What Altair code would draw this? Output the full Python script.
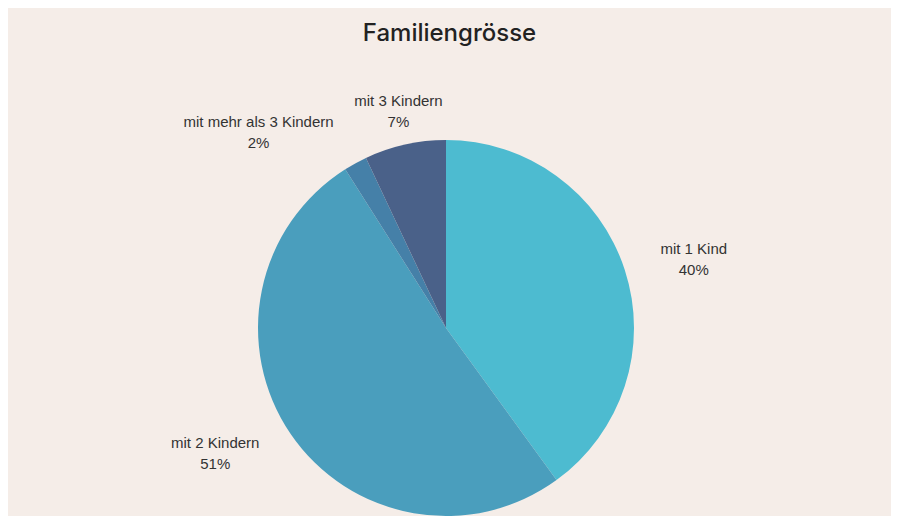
import altair as alt
import pandas as pd

# ---- data ----
categories = ["mit 1 Kind", "mit 2 Kindern", "mit mehr als 3 Kindern", "mit 3 Kindern"]
percent = [40, 51, 2, 7]
colors = ["#4dbbd0", "#4a9ebd", "#4580a8", "#4a6189"]

df = pd.DataFrame({"cat": categories, "pct": percent, "idx": list(range(len(categories)))})

# ---- layout (label placement tweaks, pixels) ----
label_radius = 250
label_offsets = {
    "mit 1 Kind": (10, -2),
    "mit 2 Kindern": (-24, -26),
    "mit mehr als 3 Kindern": (-67, 13),
    "mit 3 Kindern": (7, 17),
}
cx, cy = 438, 276
pie_r = 188

base = (
    alt.Chart(df)
    .transform_stack(stack="pct", as_=["v0", "v1"], groupby=[],
                     sort=[alt.SortField("idx", order="ascending")])
    .transform_calculate(mid="(datum.v0 + datum.v1) / 2",
                         label="datum.cat + '|' + datum.pct + '%'")
)

theta_scale = alt.Scale(domain=[0, 100], range=[0, 6.283185307179586])

arc = base.mark_arc(outerRadius=pie_r, stroke=None).encode(
    theta=alt.Theta("v0:Q", scale=theta_scale),
    theta2="v1:Q",
    color=alt.Color("cat:N", scale=alt.Scale(domain=categories, range=colors), legend=None),
    x=alt.value(cx),
    y=alt.value(cy),
)

labels = []
for c in categories:
    dx, dy = label_offsets[c]
    labels.append(
        base.transform_filter(alt.datum.cat == c)
        .mark_text(lineBreak="|", font="Liberation Sans", fontSize=15, color="#333333",
                   align="center", baseline="middle", lineHeight=21, dx=dx, dy=dy)
        .encode(
            theta=alt.Theta("mid:Q", scale=theta_scale),
            radius=alt.value(label_radius),
            text="label:N",
            x=alt.value(cx),
            y=alt.value(cy),
        )
    )

chart = (
    alt.layer(arc, *labels)
    .properties(
        width=883,
        height=462,
        padding={"top": 14, "left": 0, "right": 0, "bottom": 0},
        background="#f5ede8",
        title=alt.TitleParams("Familiengrösse", anchor="middle", font="Inter",
                              fontSize=24, fontWeight=500, color="#222222", offset=6),
    )
    .configure_view(stroke=None)
)

chart.save("out.html", embed_options={"renderer": "svg", "actions": False})
